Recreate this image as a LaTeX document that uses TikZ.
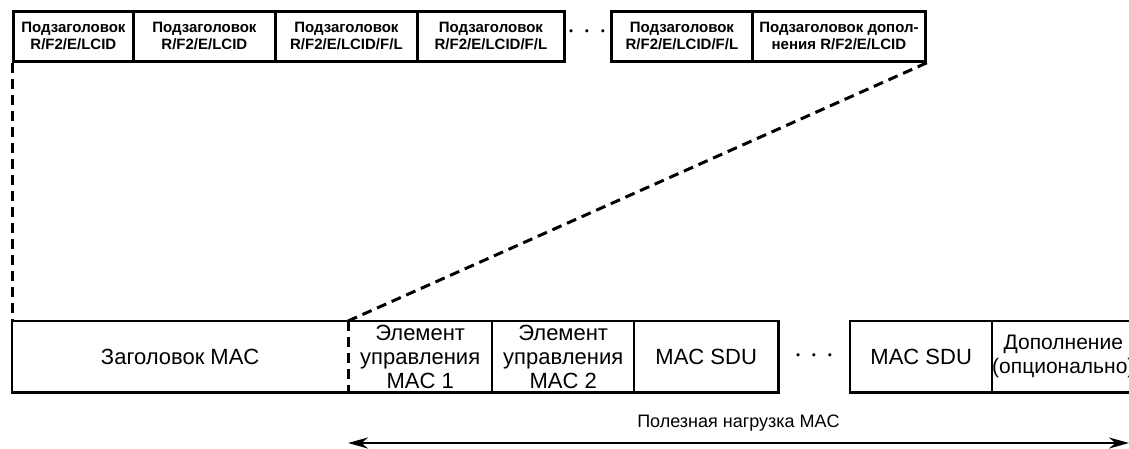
\documentclass[tikz,border=0pt]{standalone}
\usepackage{fontspec}
\setmainfont{Liberation Sans}
\usetikzlibrary{arrows.meta}
\begin{document}
\begin{tikzpicture}[x=1pt,y=-1pt,
  frame/.style={line width=2.8pt},
  dashline/.style={line width=3pt,dash pattern=on 10pt off 6pt},
  subhdr/.style={draw,frame,inner sep=0pt,minimum height=50pt,anchor=north west,
    align=center,font=\bfseries\fontsize{15}{17}\selectfont},
  field/.style={inner sep=0pt,minimum height=71pt,anchor=north west,
    align=center,font=\fontsize{22}{24}\selectfont},
  dotsep/.style={font=\boldmath\fontsize{22}{22}\selectfont}]
\useasboundingbox (0,0) rectangle (1129,448);

% subheaders of the MAC header
\node[subhdr,minimum width=120pt] (t1) at (12,10) {Подзаголовок\\R/F2/E/LCID};
\node[subhdr,minimum width=142pt] (t2) at (132,10) {Подзаголовок\\R/F2/E/LCID};
\node[subhdr,minimum width=142pt] (t3) at (274,10) {Подзаголовок\\R/F2/E/LCID/F/L};
\node[subhdr,minimum width=147pt] (t4) at (416,10) {Подзаголовок\\R/F2/E/LCID/F/L};
\node[dotsep] (td) at (587,32) {$\cdot\,\cdot\,\cdot$};
\node[subhdr,minimum width=141pt] (t5) at (610,10) {Подзаголовок\\R/F2/E/LCID/F/L};
\node[subhdr,minimum width=173pt] (t6) at (751,10) {Подзаголовок допол-\\нения R/F2/E/LCID};

% MAC PDU fields
\node[field,minimum width=336pt] (b1) at (12,321) {Заголовок MAC};
\node[field,minimum width=144pt] (b2) at (348,321) {Элемент\\управления\\MAC 1};
\node[field,minimum width=142pt] (b3) at (492,321) {Элемент\\управления\\MAC 2};
\node[field,minimum width=144pt] (b4) at (634,321) {MAC SDU};
\node[dotsep] (bd) at (814,356) {$\cdot\,\cdot\,\cdot$};
\node[field,minimum width=142pt] (b5) at (850,321) {MAC SDU};
\node[field,minimum width=140pt,font=\fontsize{21}{24}\selectfont] (b6) at (992,321)
  {Дополнение\\(опционально)};
\coordinate (b6e) at (1140,321);

% field borders: the header/payload boundary is dashed
\draw[frame] (b1.north east) -- (b1.north west) -- (b1.south west) -- (b1.south east);
\draw[frame] (b2.north west) -- (b4.north east) -- (b4.south east) -- (b2.south west);
\draw[frame] (b3.north west) -- (b3.south west);
\draw[frame] (b4.north west) -- (b4.south west);
\draw[frame] (b6e) -- (b5.north west) -- (b5.south west) -- (b6e |- b5.south);
\draw[frame] (b6.north west) -- (b6.south west);
\draw[dashline] (b2.north west) -- (b2.south west);

% expansion of the header
\draw[dashline] (t1.south west) -- (b1.north west);
\draw[dashline] (t6.south east) -- (b2.north west);

% payload extent
\coordinate (pe) at (1129,443);
\draw[line width=2.4pt,{Stealth[length=20pt,width=11pt]}-{Stealth[length=20pt,width=11pt]}]
  (b2.south west |- pe) -- (pe)
  node[pos=0.5,above=7pt,font=\fontsize{18}{20}\selectfont] (pl) {Полезная нагрузка MAC};
\end{tikzpicture}
\end{document}
